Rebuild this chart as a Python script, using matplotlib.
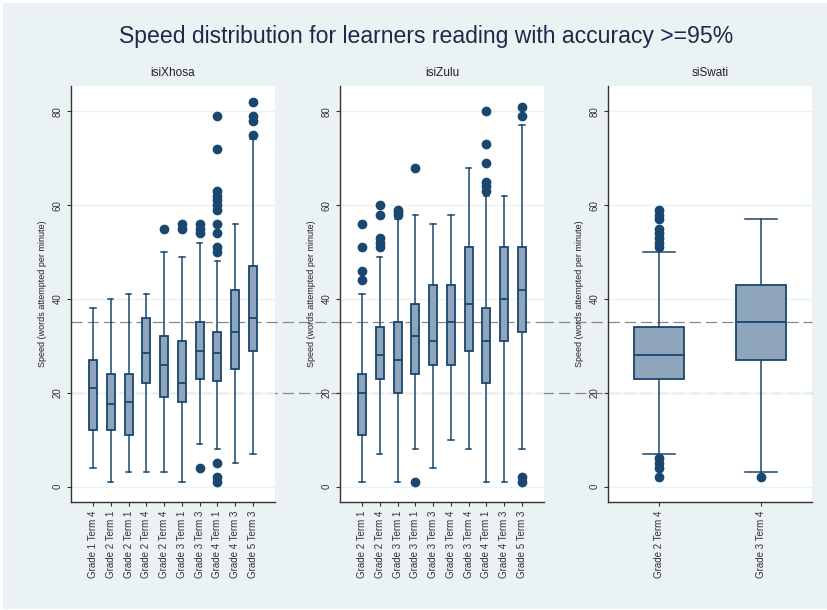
import matplotlib
matplotlib.use("Agg")
import matplotlib.pyplot as plt
import matplotlib.transforms as mtransforms
from matplotlib.lines import Line2D
from matplotlib.patches import Rectangle

plt.rcParams['font.family'] = ['Liberation Sans', 'DejaVu Sans']

# chart text
title = "Speed distribution for learners reading with accuracy >=95%"
ylabel = "Speed (words attempted per minute)"
panels = ["isiXhosa", "isiZulu", "siSwati"]

# isiXhosa
xhosa_labels = ["Grade 1 Term 4", "Grade 2 Term 1", "Grade 2 Term 1", "Grade 2 Term 4",
                "Grade 2 Term 4", "Grade 3 Term 1", "Grade 3 Term 3", "Grade 4 Term 1",
                "Grade 4 Term 3", "Grade 5 Term 3"]
xhosa_whislo = [4, 1, 3, 3, 3, 1, 9, 8, 5, 7]
xhosa_q1 = [12, 12, 11, 22, 19, 18, 23, 22.5, 25, 29]
xhosa_med = [21, 17.5, 18, 28.5, 26, 22, 29, 28.5, 33, 36]
xhosa_q3 = [27, 24, 24, 36, 32, 31, 35, 33, 42, 47]
xhosa_whishi = [38, 40, 41, 41, 50, 49, 52, 48, 56, 74]
xhosa_fliers = [[], [], [], [], [55], [55, 56], [4, 54, 55, 56],
                [1, 2, 5, 50, 51, 54, 56, 59, 60, 61, 62, 63, 72, 79], [],
                [75, 78, 79, 82]]

# isiZulu
zulu_labels = ["Grade 2 Term 1", "Grade 2 Term 4", "Grade 3 Term 1", "Grade 3 Term 1",
               "Grade 3 Term 3", "Grade 3 Term 4", "Grade 3 Term 4", "Grade 4 Term 1",
               "Grade 4 Term 3", "Grade 5 Term 3"]
zulu_whislo = [1, 7, 1, 8, 4, 10, 8, 1, 1, 8]
zulu_q1 = [11, 23, 20, 24, 26, 26, 29, 22, 31, 33]
zulu_med = [20, 28, 27, 32, 31, 35, 39, 31, 40, 42]
zulu_q3 = [24, 34, 35, 39, 43, 43, 51, 38, 51, 51]
zulu_whishi = [41, 49, 57, 58, 56, 58, 68, 62, 62, 77]
zulu_fliers = [[44, 46, 51, 56], [51, 52, 53, 58, 60], [58, 58.5, 59], [1, 68], [], [], [],
               [63, 64, 65, 69, 73, 80], [], [1, 2, 79, 81]]

# siSwati
swati_labels = ["Grade 2 Term 4", "Grade 3 Term 4"]
swati_whislo = [7, 3]
swati_q1 = [23, 27]
swati_med = [28, 35]
swati_q3 = [34, 43]
swati_whishi = [50, 57]
swati_fliers = [[2, 4, 5, 6, 51, 52, 53, 54, 55, 57, 58, 59], [2]]

ref_lines = [20, 35]

bg = "#eaf2f3"
navy = "#1a476f"
fill = "#8ea5bb"
W, H = 828, 610

fig = plt.figure(figsize=(8.28, 6.1), dpi=100, facecolor="white")
fig.add_artist(Rectangle((3 / W, 1 / H), 1.0, 1 - 4 / H, transform=fig.transFigure,
                         facecolor=bg, edgecolor="none", zorder=-5))


def make_stats(lo, q1, med, q3, hi, fl):
    out = []
    for i in range(len(med)):
        out.append(dict(whislo=lo[i], q1=q1[i], med=med[i], q3=q3[i], whishi=hi[i], fliers=fl[i]))
    return out


data = [
    (xhosa_labels, make_stats(xhosa_whislo, xhosa_q1, xhosa_med, xhosa_q3, xhosa_whishi, xhosa_fliers)),
    (zulu_labels, make_stats(zulu_whislo, zulu_q1, zulu_med, zulu_q3, zulu_whishi, zulu_fliers)),
    (swati_labels, make_stats(swati_whislo, swati_q1, swati_med, swati_q3, swati_whishi, swati_fliers)),
]

lefts = [71, 340, 608]
axw = 204
bottom = (H - 502) / H
height = 416 / H

axes = []
for name, left, (labels, stats) in zip(panels, lefts, data):
    ax = fig.add_axes([left / W, bottom, axw / W, height])
    axes.append(ax)
    n = len(stats)
    pos = list(range(1, n + 1))
    if n > 2:
        bw, cw, pad = 0.45, 0.3, 1.236
    else:
        bw, cw, pad = 0.49, 0.32, 0.505
    ax.bxp(stats, positions=pos, widths=bw, capwidths=cw, patch_artist=True,
           boxprops=dict(facecolor=fill, edgecolor=navy, linewidth=1.3),
           medianprops=dict(color=navy, linewidth=1.3),
           whiskerprops=dict(color=navy, linewidth=1.1),
           capprops=dict(color=navy, linewidth=1.1),
           flierprops=dict(marker="o", markerfacecolor=navy, markeredgecolor=navy,
                           markersize=6, linestyle="none"))
    for r in ref_lines:
        ax.axhline(r, color="#888888", lw=0.9, dashes=(9, 4), zorder=0.5)
    ax.set_xlim(1 - pad, n + pad)
    ax.set_ylim(-3.3, 85.4)
    ax.set_yticks([0, 20, 40, 60, 80])
    ax.yaxis.grid(True, color=bg, lw=1.0)
    ax.set_axisbelow(True)
    ax.set_xticks(pos)
    ax.set_xticklabels(labels, rotation=90, fontsize=7, color="#222222")
    for t in ax.get_yticklabels():
        t.set_rotation(90)
        t.set_va("center")
    ax.tick_params(axis="y", labelsize=7, length=3, width=0.8, colors="#333333", pad=3)
    ax.tick_params(axis="x", length=3, width=0.8, colors="#333333", pad=3)
    ax.set_ylabel(ylabel, fontsize=6.5, color="#222222", labelpad=4)
    for s in ["top", "right"]:
        ax.spines[s].set_visible(False)
    for s in ["left", "bottom"]:
        ax.spines[s].set_color("#333333")
        ax.spines[s].set_linewidth(1.0)
    ax.set_title(name, fontsize=8.5, color="#222222", pad=7)

# dashed reference lines running across the gaps between panels
tr = mtransforms.blended_transform_factory(fig.transFigure, axes[0].transData)
for r in ref_lines:
    fig.add_artist(Line2D([71 / W, 812 / W], [r, r], transform=tr, color="#888888",
                          lw=0.9, dashes=(9, 4), zorder=-1))

fig.text(426 / W, 1 - 36 / H, title, ha="center", va="center", fontsize=16.6, color="#1c2a4a")

fig.savefig("out.png", dpi=100, facecolor=fig.get_facecolor())
